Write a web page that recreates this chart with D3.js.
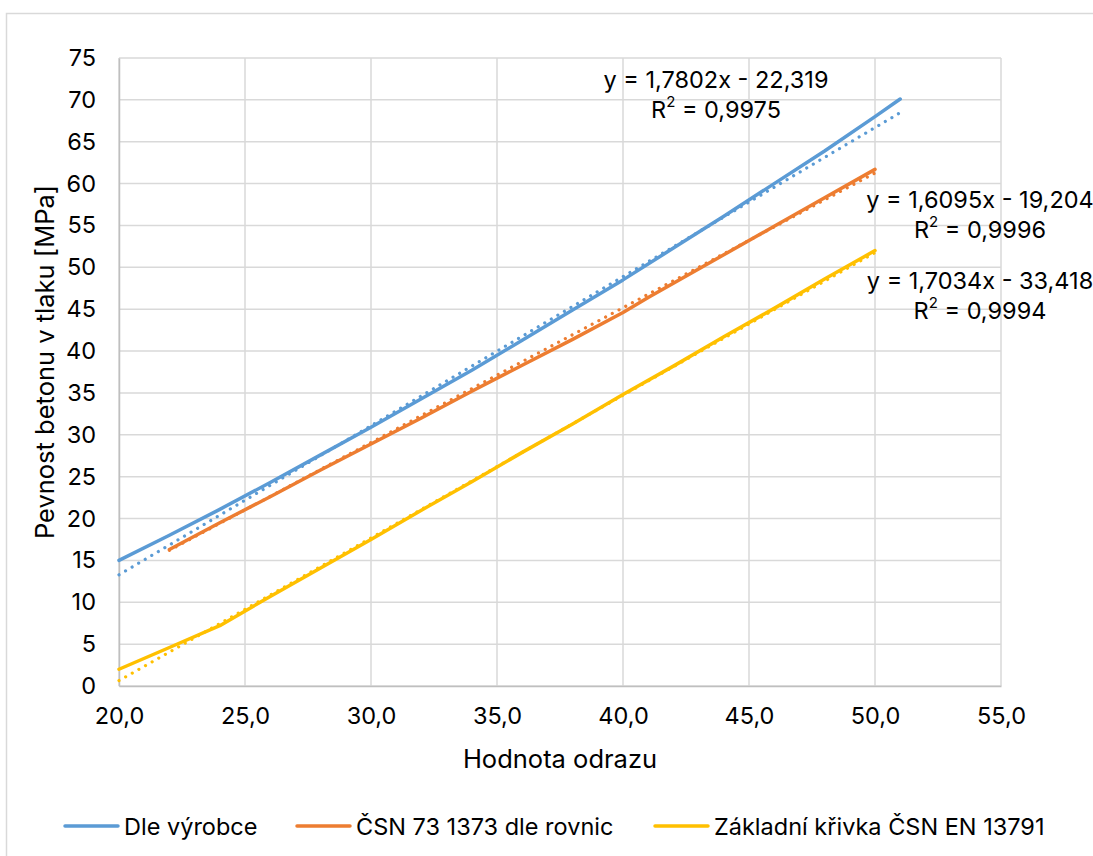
<!DOCTYPE html>
<html>
<head>
<meta charset="utf-8">
<script src="https://cdn.jsdelivr.net/npm/d3@7"></script>
<style>
  html, body { margin: 0; padding: 0; background: #fff; }
  svg { display: block; font-family: Inter, "Noto Sans", sans-serif; }
</style>
</head>
<body>
<svg id="chart" width="1093" height="856"></svg>
<script>
// Hodnota odrazu (rebound number) vs. compressive strength [MPa]
const xManufacturer = [20, 22, 24, 26, 28, 30, 32, 34, 36, 38, 40, 42, 44, 46, 48, 50, 51];
const yManufacturer = [15.0, 18.0, 21.1, 24.3, 27.6, 30.9, 34.3, 37.7, 41.3, 44.9, 48.5, 52.3, 56.1, 60.0, 63.9, 68.0, 70.1];

const xCsnEq = [22, 24, 26, 28, 30, 32, 34, 36, 38, 40, 41, 42, 44, 46, 48, 50];
const yCsnEq = [16.3, 19.5, 22.6, 25.8, 28.9, 32.0, 35.2, 38.3, 41.4, 44.6, 46.4, 48.1, 51.5, 54.9, 58.3, 61.7];

const xBasic = [20, 22, 24, 26, 28, 30, 32, 34, 36, 38, 40, 42, 44, 46, 48, 50];
const yBasic = [2.0, 4.6, 7.2, 10.7, 14.1, 17.5, 21.0, 24.4, 27.9, 31.3, 34.8, 38.2, 41.7, 45.1, 48.6, 52.0];

// Linear trendlines: slope, intercept, R²
const trendSlopes = [1.7802, 1.6095, 1.7034];
const trendIntercepts = [-22.319, -19.204, -33.418];
const trendR2 = ["0,9975", "0,9996", "0,9994"];

const seriesNames = ["Dle výrobce", "ČSN 73 1373 dle rovnic", "Základní křivka ČSN EN 13791"];
const seriesColors = ["#5B9BD5", "#ED7D31", "#FFC000"];

const xTicks = [20, 25, 30, 35, 40, 45, 50, 55];
const yTicks = [0, 5, 10, 15, 20, 25, 30, 35, 40, 45, 50, 55, 60, 65, 70, 75];

const xTitle = "Hodnota odrazu";
const yTitle = "Pevnost betonu v tlaku [MPa]";

const FONT = 23.5;
const TITLE_FONT = 25.5;

const svg = d3.select("#chart");

// outer chart frame
svg.append("rect")
  .attr("x", 6.5).attr("y", 13.5)
  .attr("width", 1200).attr("height", 1000)
  .attr("fill", "#fff").attr("stroke", "#d9d9d9").attr("stroke-width", 1.5);

const plot = { left: 119, right: 1001, top: 58, bottom: 686 };

const x = d3.scaleLinear().domain([20, 55]).range([plot.left, plot.right]);
const y = d3.scaleLinear().domain([0, 75]).range([plot.bottom, plot.top]);

const fmtX = v => d3.format(".1f")(v).replace(".", ",");

// gridlines
const grid = svg.append("g").attr("stroke", "#d9d9d9").attr("stroke-width", 1.5);
grid.selectAll("line.h").data(yTicks).join("line")
  .attr("x1", plot.left).attr("x2", plot.right)
  .attr("y1", d => y(d)).attr("y2", d => y(d));
grid.selectAll("line.v").data(xTicks).join("line")
  .attr("y1", plot.top).attr("y2", plot.bottom)
  .attr("x1", d => x(d)).attr("x2", d => x(d));

// axes
const xAxis = svg.append("g")
  .attr("transform", `translate(0,${plot.bottom})`)
  .call(d3.axisBottom(x).tickValues(xTicks).tickSize(0).tickPadding(21).tickFormat(fmtX));
const yAxis = svg.append("g")
  .attr("transform", `translate(${plot.left},0)`)
  .call(d3.axisLeft(y).tickValues(yTicks).tickSize(0).tickPadding(23).tickFormat(d3.format("d")));
[xAxis, yAxis].forEach(g => {
  g.select(".domain").attr("stroke", "#bfbfbf").attr("stroke-width", 1.5);
  g.selectAll("text").attr("font-size", FONT).attr("fill", "#000")
    .attr("font-family", "Inter, 'Noto Sans', sans-serif");
});

// axis titles
svg.append("text")
  .attr("x", (plot.left + plot.right) / 2).attr("y", 758)
  .attr("text-anchor", "middle").attr("dominant-baseline", "central")
  .attr("font-size", TITLE_FONT).text(xTitle);
svg.append("text")
  .attr("transform", `translate(44,${(plot.top + plot.bottom) / 2 - 10}) rotate(-90)`)
  .attr("text-anchor", "middle").attr("dominant-baseline", "central")
  .attr("font-size", TITLE_FONT).text(yTitle);

const series = [
  { xs: xManufacturer, ys: yManufacturer },
  { xs: xCsnEq, ys: yCsnEq },
  { xs: xBasic, ys: yBasic }
];

const line = d3.line().x(d => x(d[0])).y(d => y(d[1]));

// dotted trendlines drawn from the stated regression equations
series.forEach((s, i) => {
  const x0 = d3.min(s.xs), x1 = d3.max(s.xs);
  const pts = [x0, x1].map(v => [v, trendSlopes[i] * v + trendIntercepts[i]]);
  svg.append("path")
    .attr("d", line(pts))
    .attr("fill", "none")
    .attr("stroke", seriesColors[i])
    .attr("stroke-width", 3.2)
    .attr("stroke-linecap", "round")
    .attr("stroke-dasharray", "0.01 7.6");
});

// data series
series.forEach((s, i) => {
  svg.append("path")
    .attr("d", line(s.xs.map((v, j) => [v, s.ys[j]])))
    .attr("fill", "none")
    .attr("stroke", seriesColors[i])
    .attr("stroke-width", 3.5)
    .attr("stroke-linejoin", "round")
    .attr("stroke-linecap", "round");
});

// trendline equation labels
const eqPos = [[716, 79], [980, 199], [980, 280]];
const fmtCoef = v => String(Math.abs(v)).replace(".", ",");
eqPos.forEach((p, i) => {
  const g = svg.append("g").attr("font-size", FONT).attr("text-anchor", "middle");
  g.append("text").attr("x", p[0]).attr("y", p[1]).attr("dominant-baseline", "central")
    .text(`y = ${fmtCoef(trendSlopes[i])}x - ${fmtCoef(trendIntercepts[i])}`);
  const r = g.append("text").attr("x", p[0]).attr("y", p[1] + 30).attr("dominant-baseline", "central");
  r.append("tspan").text("R");
  r.append("tspan").attr("font-size", 15).attr("dy", -8).text("2");
  r.append("tspan").attr("dy", 8).text(` = ${trendR2[i]}`);
});

// legend
const legendX = [65, 297, 655];
const legend = svg.append("g");
seriesNames.forEach((name, i) => {
  legend.append("line")
    .attr("x1", legendX[i]).attr("x2", legendX[i] + 53)
    .attr("y1", 826).attr("y2", 826)
    .attr("stroke", seriesColors[i]).attr("stroke-width", 3.5).attr("stroke-linecap", "round");
  legend.append("text")
    .attr("x", legendX[i] + 59).attr("y", 826)
    .attr("dominant-baseline", "central").attr("font-size", FONT)
    .text(name);
});
</script>
</body>
</html>
